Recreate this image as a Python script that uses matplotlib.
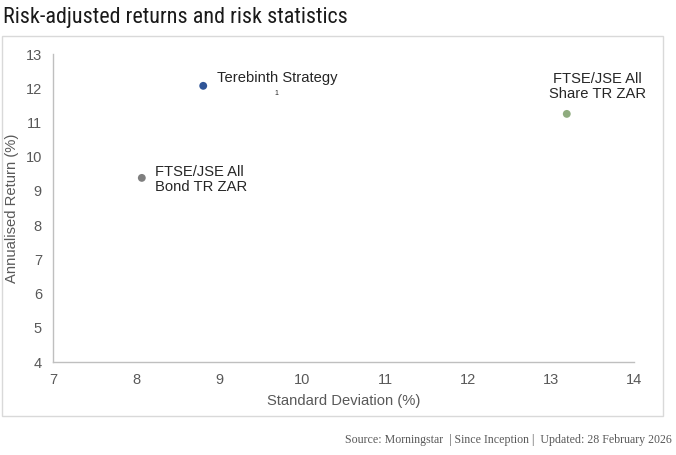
import matplotlib
matplotlib.use("Agg")
import matplotlib.pyplot as plt
from matplotlib.patches import Rectangle
from matplotlib import font_manager

names = ["Terebinth Strategy", "FTSE/JSE All\nShare TR ZAR", "FTSE/JSE All\nBond TR ZAR"]
std_dev = [8.81, 13.19, 8.07]
ann_return = [12.07, 11.25, 9.38]
colors = ["#2f5597", "#8fac7f", "#7f7f7f"]
x_ticks = [7, 8, 9, 10, 11, 12, 13, 14]
y_ticks = [4, 5, 6, 7, 8, 9, 10, 11, 12, 13]
title = "Risk-adjusted returns and risk statistics"
source = "Source: Morningstar  | Since Inception |  Updated: 28 February 2026"

avail = {f.name for f in font_manager.fontManager.ttflist}
title_font = "Lato"
for cand in ["Liberation Sans Narrow", "Roboto Condensed", "Open Sans Condensed",
             "DejaVu Sans Condensed", "Lato"]:
    if cand in avail:
        title_font = cand
        break

fig = plt.figure(figsize=(6.76, 4.55), dpi=100)
fig.patch.set_facecolor("white")

# outer border box
fig.patches.append(Rectangle((2/676, 1-416/455), 661/676, 380/455, transform=fig.transFigure,
                             fill=False, edgecolor="#d9d9d9", linewidth=1.0))

ax = fig.add_axes([53/676, 1-362/455, 581/676, 308/455])
ax.scatter(std_dev, ann_return, s=32, c=colors, zorder=3, linewidths=0)
ax.set_xlim(7, 14)
ax.set_ylim(4, 13)
ax.set_xticks(x_ticks)
ax.set_yticks(y_ticks)
for s in ["top", "right"]:
    ax.spines[s].set_visible(False)
for s in ["left", "bottom"]:
    ax.spines[s].set_color("#bfbfbf")
    ax.spines[s].set_linewidth(1.0)
ax.tick_params(length=0, labelsize=10.5, labelcolor="#595959", pad=8)
for lab in ax.get_xticklabels() + ax.get_yticklabels():
    lab.set_fontfamily("Liberation Sans")
ax.set_xlabel("Standard Deviation (%)", fontsize=10.6, color="#595959", family="Liberation Sans", labelpad=5)
ax.set_ylabel("Annualised Return (%)", fontsize=10.6, color="#595959", family="Liberation Sans", labelpad=5)

tc = "#262626"
fs = 10.6
ax.annotate(names[0], (std_dev[0], ann_return[0]), xytext=(10, 5.8), textcoords="offset points",
            ha="left", va="center", fontsize=fs, color=tc, family="Liberation Sans")
ax.annotate("1", (std_dev[0], ann_return[0]), xytext=(53, -5.5), textcoords="offset points",
            ha="center", va="center", fontsize=5, color=tc, family="Liberation Sans")
ax.annotate(names[1], (std_dev[1], ann_return[1]), xytext=(22, 19.5), textcoords="offset points",
            ha="center", va="center", multialignment="center", fontsize=fs, color=tc,
            family="Liberation Sans", linespacing=1.1)
ax.annotate(names[2], (std_dev[2], ann_return[2]), xytext=(9.5, -1), textcoords="offset points",
            ha="left", va="center", multialignment="left", fontsize=fs, color=tc,
            family="Liberation Sans", linespacing=1.1)

t = fig.text(3/676, 1-17/455, title, ha="left", va="center",
             fontsize=16, color="#1a1a1a", family=title_font)
src = fig.text(672/676, 1-440/455, source,
               ha="right", va="center", fontsize=8.6, color="#595959", family="Liberation Serif")

# fit title width to reference (~346 px)
fig.canvas.draw()
r = fig.canvas.get_renderer()
w = t.get_window_extent(r).width
size = 16 * 346.0 / w
t.set_fontsize(min(size, 17.5))

fig.savefig("out.png", dpi=100)
